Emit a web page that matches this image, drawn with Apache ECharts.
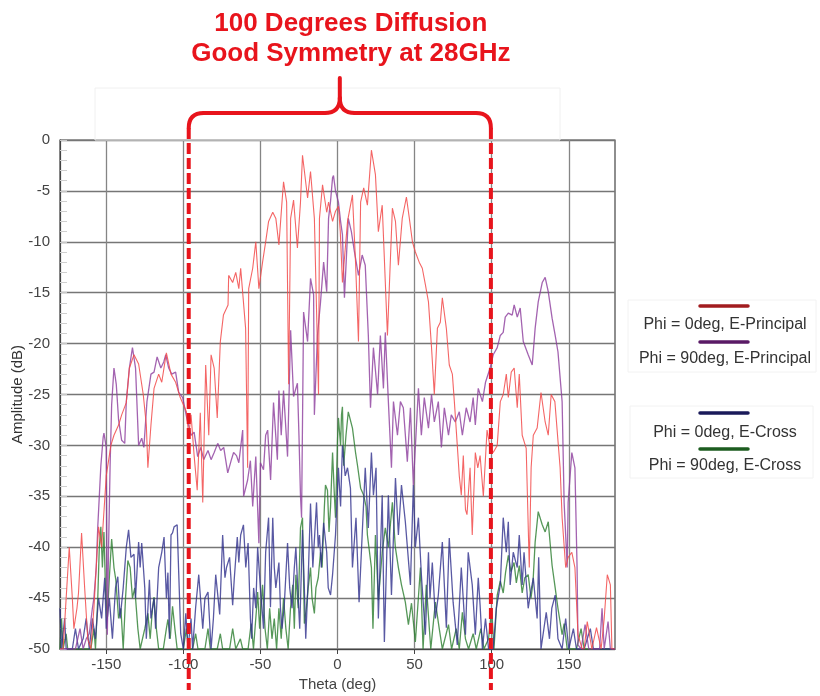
<!DOCTYPE html>
<html><head><meta charset="utf-8">
<script src="https://cdn.jsdelivr.net/npm/echarts@6/dist/echarts.min.js"></script>
<style>html,body{margin:0;padding:0;background:#fff}#main{width:820px;height:696px}</style>
</head><body><div id="main"></div>
<script>
const titleLines = ['100 Degrees Diffusion', 'Good Symmetry at 28GHz'];
const xTicks = [-150, -100, -50, 0, 50, 100, 150];
const seriesNames = ['Phi = 0deg, E-Principal', 'Phi = 90deg, E-Principal', 'Phi = 0deg, E-Cross', 'Phi = 90deg, E-Cross'];
const markerThetas = [-96.5, 99.5];

const phi0Principal = [[-180,-50],[-178,-50],[-176,-45],[-174,-40],[-172,-45],[-171,-48],[-169,-46],[-168,-44.5],[-166,-38.6],[-164,-44],[-162,-49],[-160,-50],[-158,-46],[-155,-38],[-153,-40],[-150,-33],[-147,-30],[-145,-29],[-142,-28],[-140,-27],[-137,-25.8],[-135,-22.4],[-132,-21.1],[-129,-22],[-126,-25],[-124,-28],[-123,-32.2],[-121,-28],[-119,-24.4],[-116,-23],[-114,-23.8],[-111,-20.9],[-108,-23],[-105,-23.8],[-102,-25.3],[-98,-26.7],[-96.5,-29],[-95,-27],[-93,-31],[-91,-34.4],[-89,-26.8],[-87.4,-35.6],[-85.5,-22.1],[-83.5,-29],[-82,-21.1],[-80,-22.4],[-78,-27.3],[-76,-19.8],[-74,-17.2],[-71,-16.2],[-70.6,-13.3],[-68,-14],[-66,-13],[-64,-14.6],[-62.8,-12.6],[-59.6,-18.5],[-58.3,-32.2],[-57.6,-14.6],[-55,-12.6],[-53,-10],[-51,-14.6],[-48.6,-12],[-46.6,-10],[-44.7,-8],[-42,-7.1],[-40,-7.7],[-38,-10.3],[-36,-6.1],[-35,-4.1],[-33,-6.1],[-31.7,-24],[-30.4,-7.7],[-28.5,-5.9],[-26,-10.6],[-24,-6.1],[-22.7,-1.5],[-19.4,-5.7],[-17.5,-3.1],[-15,-7.7],[-12.3,-25],[-11.7,-7.7],[-9.7,-4.4],[-7,-7.1],[-5.8,-6.1],[-3.2,-8],[-1.3,-7],[0.6,-6.5],[1.8,-9],[3.2,-14],[6.5,-8],[9.7,-5.4],[11.7,-12],[13.6,-19.8],[15,-6.1],[17,-4.7],[19.4,-6.4],[22,-1],[24.6,-3.4],[26.5,-9],[29,-6.4],[32.4,-19.2],[35.6,-6.7],[37.6,-8],[39.5,-12.3],[42,-7.7],[44.7,-5.6],[46.6,-7.7],[48.6,-10],[50.5,-11],[53,-12],[55,-12.6],[57,-14.2],[59,-15.9],[61,-20.4],[62.8,-25],[64.8,-18.5],[66.7,-17.9],[68,-15.5],[70.6,-18.5],[72.5,-22.1],[74.5,-23],[75.8,-25.7],[77.7,-30],[79,-33],[80.3,-34.9],[81.6,-31],[83,-36.3],[84,-36.8],[86,-32.2],[87.4,-38.8],[89.4,-30.7],[91,-32.2],[92.5,-31],[94.6,-35],[97,-28.5],[99,-30.2],[101,-30.7],[103.6,-30],[105.6,-25.7],[107.5,-25],[109.5,-23],[110.8,-25.3],[112.7,-22.8],[114.6,-22.4],[116.6,-26.3],[117.9,-23],[119.8,-29],[122.4,-30.3],[124.4,-42],[125.6,-32.2],[127,-29],[129.5,-28.3],[132,-24.8],[134.7,-27.7],[136.7,-29],[138.6,-25],[141,-25.7],[144.4,-32.2],[145.7,-37.1],[148,-42],[149.6,-41],[152,-40.5],[154,-42],[156,-48.6],[158.7,-50],[160,-50],[162,-47.3],[165,-50],[168,-47.9],[171,-50],[173,-47],[175,-42.7],[177,-43.7],[178,-50],[180,-50]];

const phi90Principal = [[-180,-50],[-170,-50],[-167,-48],[-165,-50],[-163,-49],[-161,-48.5],[-159,-46],[-158,-45],[-156.5,-42],[-155.5,-38],[-154.5,-35],[-153.5,-32],[-152,-29.2],[-151.5,-28.8],[-150.5,-28.7],[-150,-30.2],[-149.3,-48.6],[-148.5,-40],[-147.5,-32],[-146.5,-26],[-145,-22.4],[-143.5,-24],[-142,-27.5],[-140,-29.5],[-138,-29.8],[-137,-25.7],[-135,-22.4],[-133,-20.4],[-131,-22.4],[-129,-30],[-127,-29.3],[-125.6,-30.2],[-123.6,-25.7],[-121,-23],[-119,-22.8],[-117,-21.3],[-114.6,-22.4],[-112.7,-21.8],[-111.4,-21.1],[-109.5,-22.4],[-107.5,-23],[-105,-22.8],[-103,-24.8],[-100.4,-25.3],[-97.8,-27.3],[-95,-29],[-93,-28.7],[-90.7,-31.1],[-88.7,-30.2],[-86.8,-31.4],[-84,-30.5],[-82,-31.4],[-80,-30.7],[-77.7,-29.8],[-75.8,-30.5],[-73.8,-30.2],[-71.2,-32.7],[-69,-31.5],[-67.4,-30.7],[-65.5,-31],[-64,-31.7],[-61.5,-28.5],[-60.9,-35],[-58.3,-33.4],[-56.5,-31.5],[-55,-36],[-53,-31.1],[-51,-39.6],[-50,-31.7],[-48,-32.4],[-46.6,-29],[-45.3,-28.5],[-43.4,-33.4],[-41.5,-25.8],[-39,-31.4],[-38,-24.6],[-36.5,-29],[-35,-24.6],[-32.4,-31.1],[-30.4,-18.7],[-28.5,-25.2],[-26,-23.9],[-25,-29],[-24,-35],[-23.3,-37.1],[-22,-16.9],[-19.4,-19.8],[-17.5,-13.6],[-15.5,-15.2],[-15,-27],[-13,-19.2],[-11,-15.9],[-9,-12],[-7,-14.9],[-5.8,-7.7],[-4.5,-6],[-3.2,-3.7],[-2.6,-3.5],[-1.3,-5],[0.6,-6.1],[2,-8],[3.2,-9.3],[4.5,-15.5],[7,-7.7],[9,-9],[11,-11],[13.6,-13.3],[16,-11.3],[18,-12.3],[20,-19.2],[21.4,-26.3],[23.3,-20.4],[26,-25],[27.8,-19.2],[29.8,-24.4],[31,-18.9],[33,-25.7],[35,-32.2],[36.3,-25.7],[38.9,-29],[40.8,-25.7],[42.7,-26.3],[45.3,-31.6],[47.3,-26.3],[49.2,-33.9],[52.5,-24.4],[54.4,-29],[56.3,-25.3],[59,-28.3],[61,-25],[62.8,-27.7],[65.4,-25.7],[67.4,-30.2],[69.3,-26.3],[72,-29],[73.8,-27],[76.4,-27.7],[79,-26.7],[81,-29],[83.5,-26.3],[86,-27.7],[88,-25.3],[89.4,-28],[91.3,-24.4],[94,-25.7],[96,-23.8],[99,-22.4],[101,-21.1],[103.6,-20.4],[105.6,-19.2],[107.5,-18.9],[108.8,-17.4],[110.8,-17],[113.3,-17.2],[114.6,-16.2],[116.6,-17.4],[118.5,-16.5],[120.5,-19.8],[123.7,-21.1],[126.3,-22.1],[128.2,-18.5],[130.2,-15.9],[132.8,-14],[134.7,-13.5],[136.7,-14.9],[139.2,-17.5],[141.2,-19.2],[143,-20.8],[145.7,-25.7],[147,-35.6],[149,-42],[149.6,-35.6],[152,-30.7],[154,-32.2],[155.4,-42],[156,-49.6],[158,-50],[160.6,-47.6],[163,-50],[170,-50],[171.6,-46],[173,-50],[175.5,-47.3],[177,-50],[180,-50]];

const phi0Cross = [[-180,-46],[-179,-50],[-177,-47],[-176,-50],[-172,-50],[-170,-48],[-168,-50],[-165,-49],[-163,-47],[-161,-50],[-159,-47],[-157,-49],[-155,-45],[-153,-47],[-151,-43],[-150,-48],[-148,-45],[-146,-49],[-144,-44],[-142.5,-42.9],[-141,-47],[-139,-44],[-137,-40],[-135.5,-38.3],[-134,-41],[-132,-40.7],[-131,-45],[-129,-39.5],[-128,-42],[-127,-39.6],[-125,-44],[-124,-49],[-122,-43.2],[-121,-47],[-119,-45],[-118,-48],[-116,-42],[-114,-40.5],[-112.5,-39],[-111,-45],[-110,-42.5],[-109,-49],[-108,-38.8],[-107,-38.6],[-106,-38],[-104,-37.8],[-103,-42.5],[-101.7,-48.5],[-100,-50],[-98.4,-46.5],[-97,-50],[-95,-47],[-94,-50],[-92,-45.9],[-90,-42.7],[-87.4,-48],[-86,-45],[-84,-44.4],[-82,-50],[-80.5,-47],[-79,-42.7],[-76.4,-46.6],[-74.5,-38.8],[-73,-43],[-72,-42],[-70,-41],[-68,-45.7],[-67,-43.2],[-65,-39],[-64,-41.5],[-62.8,-38.8],[-61,-37.8],[-59.5,-42],[-58,-39.6],[-56.5,-47],[-55.7,-49],[-54.4,-44],[-53,-46],[-51.8,-40],[-50,-44],[-49,-45.9],[-48,-48],[-46.6,-40.5],[-44.7,-37.1],[-43.5,-45.9],[-42,-37.1],[-41,-42],[-40,-44],[-38,-41.5],[-37,-46],[-36,-48],[-34.6,-45.9],[-32.4,-39.6],[-31,-44],[-29.5,-46],[-28,-42],[-27,-40],[-25.5,-45],[-24.5,-48],[-22.7,-38.3],[-21.5,-44],[-20.6,-49],[-19,-43],[-17.5,-35.7],[-16,-42],[-13.6,-35.6],[-12.5,-40],[-11.7,-38.8],[-10.5,-42],[-9,-37.6],[-7,-40.5],[-6,-44],[-4.5,-44.7],[-3.2,-42.7],[-1.3,-38.8],[0.6,-32.2],[2,-36],[3.2,-30],[5,-33],[6.5,-32.2],[8.4,-34.2],[9.7,-42],[12,-37.1],[14,-45.4],[16,-38.8],[18,-32.2],[20,-38.1],[22,-30.7],[23.3,-34.9],[25,-32.2],[26.5,-47],[29,-34.9],[30.4,-49.3],[33,-34.9],[35,-44.7],[37.6,-33.2],[39.5,-38.8],[41.5,-33.9],[44,-37.5],[47.3,-43.7],[49.2,-33.9],[50.5,-40],[52.5,-37.1],[54.4,-42.7],[57,-48.6],[59,-40.5],[60,-45],[61.5,-41.5],[63.5,-47],[65.4,-44.7],[68,-39.5],[70.6,-47.9],[72.5,-39.1],[75,-45.4],[77.7,-49.6],[80.3,-42],[83,-48.6],[84.8,-40.5],[87.4,-43.7],[89.4,-48.6],[91.3,-43],[92.5,-45.7],[94,-50],[96,-47],[98,-50],[101,-50],[103,-46],[105.6,-43.7],[107.5,-37.1],[109.5,-40.5],[110.8,-37.5],[112,-43.7],[114,-40.5],[116.6,-42],[117.9,-38.8],[119.8,-43.7],[121,-40.5],[123.7,-46],[125,-44.7],[127,-43],[129.5,-47],[130.5,-41],[132,-50],[135.4,-46.4],[137.5,-49],[139,-46],[141.2,-44.7],[143,-49],[145.7,-50],[148,-47],[150,-50],[153,-48],[155,-50],[160,-50],[164,-48],[166,-50],[180,-50]];

const phi90Cross = [[-180,-50],[-179,-47],[-178,-50],[-176,-48.5],[-175,-50],[-160,-50],[-158,-48],[-157,-50],[-155.5,-45],[-154.5,-40],[-153.5,-38],[-152.5,-42],[-151.5,-38.5],[-150.5,-44],[-149.3,-47],[-148,-43],[-146.5,-39.2],[-145,-42],[-143.8,-43.2],[-142,-47],[-140.5,-46],[-139,-50],[-137.5,-45],[-136,-41.3],[-134.5,-42],[-133,-45],[-131.5,-44],[-129.5,-48],[-128,-50],[-125,-48],[-123,-46.5],[-121.5,-49],[-120,-46],[-119,-44.9],[-117.5,-48],[-116,-50],[-113,-50],[-111,-48],[-110,-47.1],[-108.5,-49],[-107,-45.8],[-105.5,-48],[-104,-50],[-100,-50],[-98,-48],[-96.5,-50],[-94,-50],[-92,-48.5],[-90.5,-50],[-86,-50],[-84,-48],[-82.5,-50],[-78,-50],[-76,-48.5],[-74.5,-50],[-70,-50],[-68,-48],[-66,-50],[-63,-49],[-61.5,-50],[-58,-50],[-56,-47.5],[-54.5,-50],[-52.5,-46],[-51.8,-44.4],[-50.5,-48],[-48.6,-43.7],[-47,-48],[-45.5,-50],[-44,-46],[-42.5,-49],[-41,-47],[-39.5,-50],[-38,-46],[-36.5,-49],[-35,-45],[-33.5,-48],[-32,-50],[-30.5,-46],[-29,-43.7],[-28,-48],[-27,-42.7],[-25.5,-46],[-24,-38.1],[-22.7,-37.1],[-21.5,-47.5],[-20.2,-46],[-19,-44],[-17.5,-42],[-16.5,-45],[-15,-46.5],[-14,-44],[-12.5,-43],[-11,-40.5],[-10,-42],[-8.5,-36],[-7.8,-33.9],[-6.5,-34.4],[-5.5,-38.5],[-4.5,-36],[-3.2,-30.7],[-2,-35],[-1.3,-37.1],[0,-29.5],[0.6,-27.3],[2,-30],[2.6,-27],[3.2,-26.2],[4,-32],[5.5,-29],[7,-26.7],[7.8,-26.8],[9.7,-28.3],[11.7,-30.7],[13,-32],[15,-34.2],[17,-34.9],[18.5,-36],[19.4,-38.8],[22,-42],[23,-48],[24.6,-38.8],[26.5,-45.2],[29,-40.5],[31,-38.1],[33,-40],[35.6,-35.6],[37.5,-40],[39.5,-42],[41.5,-43.7],[44,-45.4],[46,-47.6],[48,-45.5],[50.5,-49.3],[52,-46],[53.8,-42],[55.5,-50],[57.6,-43.7],[60.5,-50],[63.5,-45.4],[66,-48],[68,-50],[72,-47.6],[74,-50],[77,-48],[79,-50],[81,-46.4],[83,-49],[85,-50],[88,-48.5],[90,-50],[93,-48],[95,-50],[98,-49],[100,-46],[101.5,-50],[103.6,-44.7],[105.6,-43.3],[107.5,-44.5],[109,-42.5],[110.8,-40.8],[112.5,-42.4],[114.5,-41.5],[116,-43.5],[117.9,-41.8],[119.8,-44.5],[121.5,-43],[123.7,-42.7],[125.5,-45],[126.8,-43.5],[128.2,-39.5],[130.2,-36.5],[132.8,-37.8],[134.7,-38.5],[136.7,-37.5],[139.2,-41.8],[141.2,-44],[143,-46],[145.7,-48.6],[147,-47.5],[149,-50],[155,-50],[158,-48],[160,-50],[180,-50]];

const lineColors = ['#f24a4a', '#8c3c9c', '#2f2f8c', '#2a7d2e'];
const legendColors = ['#a21c1f', '#5a1a66', '#1a1a5a', '#1c5c1f'];
const FONT = '"Liberation Sans", Arial, sans-serif';
const RED = '#e8141c';

const chart = echarts.init(document.getElementById('main'));
const dataSets = [phi0Principal, phi90Principal, phi0Cross, phi90Cross];
const drawOrder = [3, 2, 1, 0];

chart.setOption({
  animation: false,
  backgroundColor: '#fff',
  grid: { left: 60, right: 205, top: 140, bottom: 47, containLabel: false, outerBoundsMode: 'none',
          show: true, borderColor: '#444', borderWidth: 1.2, backgroundColor: 'transparent' },
  xAxis: {
    type: 'value', min: -180, max: 180,
    name: 'Theta (deg)', nameLocation: 'middle', nameGap: 28, nameMoveOverlap: false,
    nameTextStyle: { fontFamily: FONT, fontSize: 15, color: '#444' },
    axisLine: { onZero: false, lineStyle: { color: '#444', width: 1.2 } },
    axisTick: { show: true, length: 5, customValues: xTicks, lineStyle: { color: '#444' } },
    axisLabel: { customValues: xTicks, fontFamily: FONT, fontSize: 15, color: '#444', margin: 8 },
    splitLine: { show: true, lineStyle: { color: '#858585', width: 1.3 } }
  },
  yAxis: {
    type: 'value', min: -50, max: 0, interval: 5,
    name: 'Amplitude (dB)', nameLocation: 'middle', nameGap: 35, nameRotate: 90, nameMoveOverlap: false,
    nameTextStyle: { fontFamily: FONT, fontSize: 15, color: '#333' },
    axisLine: { show: true, onZero: false, lineStyle: { color: '#444', width: 1.2 } },
    axisTick: { show: true, inside: true, length: 7, lineStyle: { color: '#c8c8c8' } },
    minorTick: { show: true, splitNumber: 5, length: 7, lineStyle: { color: '#cfcfcf' } },
    axisLabel: { fontFamily: FONT, fontSize: 15, color: '#444', margin: 10 },
    splitLine: { show: true, lineStyle: { color: '#767676', width: 1.3 } }
  },
  series: drawOrder.map(i => ({
    name: seriesNames[i], type: 'line', data: dataSets[i], showSymbol: false, symbol: 'none',
    clip: true, z: 2 + (3 - i),
    lineStyle: { color: lineColors[i], width: i === 0 ? 1.1 : 1.3, opacity: i === 0 ? 0.85 : 0.8 }
  }))
});

function px(x, y) { return chart.convertToPixel({ gridIndex: 0 }, [x, y]); }
const xl = px(markerThetas[0], 0)[0];
const xr = px(markerThetas[1], 0)[0];
const yTop = px(0, 0)[1];
const yBot = px(0, -50)[1];
const xc = (xl + xr) / 2;
const braceY = yTop - 27;
const tipY = yTop - 62;
const r = 15;
const yEnd = yTop - 12;

const graphics = [];
graphics.push({ type: 'rect', shape: { x: 95, y: yTop - 52, width: 465, height: 52 }, style: { fill: 'none', stroke: '#f0f0f0', lineWidth: 1 }, z: 1 });
titleLines.forEach((t, k) => graphics.push({
  type: 'text', x: xc + 11, y: 24 + k * 30,
  style: { text: t, font: 'bold 26px ' + FONT, fill: RED, textAlign: 'center', textVerticalAlign: 'middle' }, z: 20
}));
const braceStyle = { fill: 'none', stroke: RED, lineWidth: 4, lineCap: 'round' };
function bline(x1, y1, x2, y2) { graphics.push({ type: 'line', shape: { x1, y1, x2, y2 }, style: braceStyle, z: 20 }); }
function bcurve(x1, y1, cx, cy, x2, y2) { graphics.push({ type: 'bezierCurve', shape: { x1, y1, x2, y2, cpx1: cx, cpy1: cy }, style: braceStyle, z: 20 }); }
bline(xl, yEnd, xl, braceY + r);
bcurve(xl, braceY + r, xl, braceY, xl + r, braceY);
bline(xl + r, braceY, xc - r, braceY);
bcurve(xc - r, braceY, xc, braceY, xc, braceY - r);
bline(xc, braceY - r, xc, tipY);
bcurve(xc, braceY - r, xc, braceY, xc + r, braceY);
bline(xc + r, braceY, xr - r, braceY);
bcurve(xr - r, braceY, xr, braceY, xr, braceY + r);
bline(xr, braceY + r, xr, yEnd);
[xl, xr].forEach(x => graphics.push({
  type: 'line', shape: { x1: x, y1: yEnd, x2: x, y2: yBot + 41 },
  style: { stroke: RED, lineWidth: 4, lineDash: [11, 4] }, z: 20
}));
graphics.push({ type: 'rect', shape: { x: 628, y: 300, width: 188, height: 72 }, style: { fill: 'none', stroke: '#f2f2f2', lineWidth: 1 }, z: 1 });
graphics.push({ type: 'rect', shape: { x: 630, y: 406, width: 183, height: 72 }, style: { fill: 'none', stroke: '#f2f2f2', lineWidth: 1 }, z: 1 });
const legendLineY = [306, 342, 413, 449];
const legendTextY = [325, 359, 433, 466];
seriesNames.forEach((n, i) => {
  graphics.push({ type: 'line', shape: { x1: 700, y1: legendLineY[i], x2: 748, y2: legendLineY[i] }, style: { stroke: legendColors[i], lineWidth: 3.5, lineCap: 'round' }, z: 20 });
  graphics.push({ type: 'text', x: 725, y: legendTextY[i], style: { text: n, font: '16px ' + FONT, fill: '#333', textAlign: 'center', textVerticalAlign: 'middle' }, z: 20 });
});
chart.setOption({ graphic: graphics });
</script>
</body></html>
